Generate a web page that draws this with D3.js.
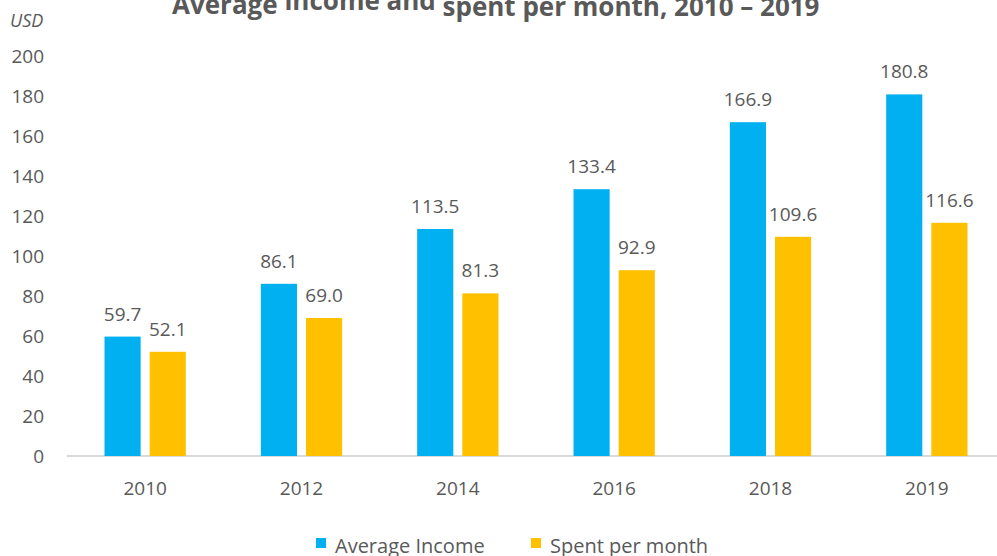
<!DOCTYPE html>
<html>
<head>
<meta charset="utf-8">
<script src="https://cdn.jsdelivr.net/npm/d3@7"></script>
<style>
  body { margin: 0; background: #fff; }
  text { font-family: "Open Sans", "Noto Sans", sans-serif; fill: #595959; }
</style>
</head>
<body>
<div id="chart"></div>
<script>
let w = 997;
let h = 556;

// data
let years = ["2010", "2012", "2014", "2016", "2018", "2019"];
let income = [59.7, 86.1, 113.5, 133.4, 166.9, 180.8];
let spent = [52.1, 69.0, 81.3, 92.9, 109.6, 116.6];
let seriesNames = ["Average Income", "Spent per month"];
let colors = ["#00B0F0", "#FFC000"];
let yTicks = [0, 20, 40, 60, 80, 100, 120, 140, 160, 180, 200];

let rows = years.map((y, i) => ({year: y, values: [income[i], spent[i]]}));

let svg = d3.select("#chart").append("svg")
  .attr("width", w)
  .attr("height", h);

let xScale = d3.scaleBand().domain(years).range([67, 1005]).paddingInner(0.48).paddingOuter(0.24);
let xSub = d3.scaleBand().domain([0, 1]).range([0, xScale.bandwidth()]).paddingInner(0.2);
let yScale = d3.scaleLinear().domain([0, 200]).range([456, 56]);

// y tick labels (no axis line)
let yAxis = svg.append("g")
  .attr("transform", "translate(52,0)")
  .call(d3.axisLeft(yScale).tickValues(yTicks).tickSize(0).tickPadding(8));
yAxis.select(".domain").remove();
yAxis.selectAll("text")
  .attr("font-size", 19)
  .attr("fill", "#595959")
  .style("font-family", "'Open Sans', sans-serif");

// baseline
svg.append("line")
  .attr("x1", 67).attr("x2", w)
  .attr("y1", yScale(0)).attr("y2", yScale(0))
  .attr("stroke", "#D9D9D9")
  .attr("stroke-width", 2);

// x labels
let xAxis = svg.append("g")
  .attr("transform", "translate(0," + yScale(0) + ")")
  .call(d3.axisBottom(xScale).tickSize(0).tickPadding(26));
xAxis.select(".domain").remove();
xAxis.selectAll("text")
  .attr("font-size", 19)
  .attr("fill", "#595959")
  .style("font-family", "'Open Sans', sans-serif");

let groups = svg.selectAll(".group").data(rows).enter()
  .append("g")
  .attr("class", "group")
  .attr("transform", d => "translate(" + xScale(d.year) + ",0)");

groups.selectAll("rect").data(d => d.values).enter()
  .append("rect")
  .attr("x", (d, i) => xSub(i))
  .attr("width", xSub.bandwidth())
  .attr("y", d => yScale(d))
  .attr("height", d => yScale(0) - yScale(d))
  .attr("fill", (d, i) => colors[i]);

groups.selectAll(".val").data(d => d.values).enter()
  .append("text")
  .attr("class", "val")
  .attr("x", (d, i) => xSub(i) + xSub.bandwidth() / 2)
  .attr("y", d => yScale(d) - 16)
  .attr("text-anchor", "middle")
  .attr("font-size", 19)
  .text(d => d.toFixed(1));

// unit label
svg.append("text")
  .attr("x", 10).attr("y", 27)
  .attr("font-size", 18)
  .attr("font-style", "italic")
  .text("USD");

// title (partly cut off at the top, as in the source)
let title = svg.append("text")
  .attr("x", 172).attr("y", 14)
  .attr("font-weight", "bold")
  .attr("font-size", 26)
  .attr("fill", "#333333");
title.append("tspan").text("Average ");
title.append("tspan").attr("dy", -4).text("income and ");
title.append("tspan").attr("dy", 6).text("spent per month, 2010 \u2013 2019");

// legend
let legend = svg.append("g").attr("transform", "translate(316,538)");
let legendX = [0, 215];
seriesNames.forEach((name, i) => {
  legend.append("rect")
    .attr("x", legendX[i]).attr("y", 0)
    .attr("width", 10).attr("height", 10)
    .attr("fill", colors[i]);
  legend.append("text")
    .attr("x", legendX[i] + 19).attr("y", 15)
    .attr("font-size", 20)
    .text(name);
});
</script>
</body>
</html>
